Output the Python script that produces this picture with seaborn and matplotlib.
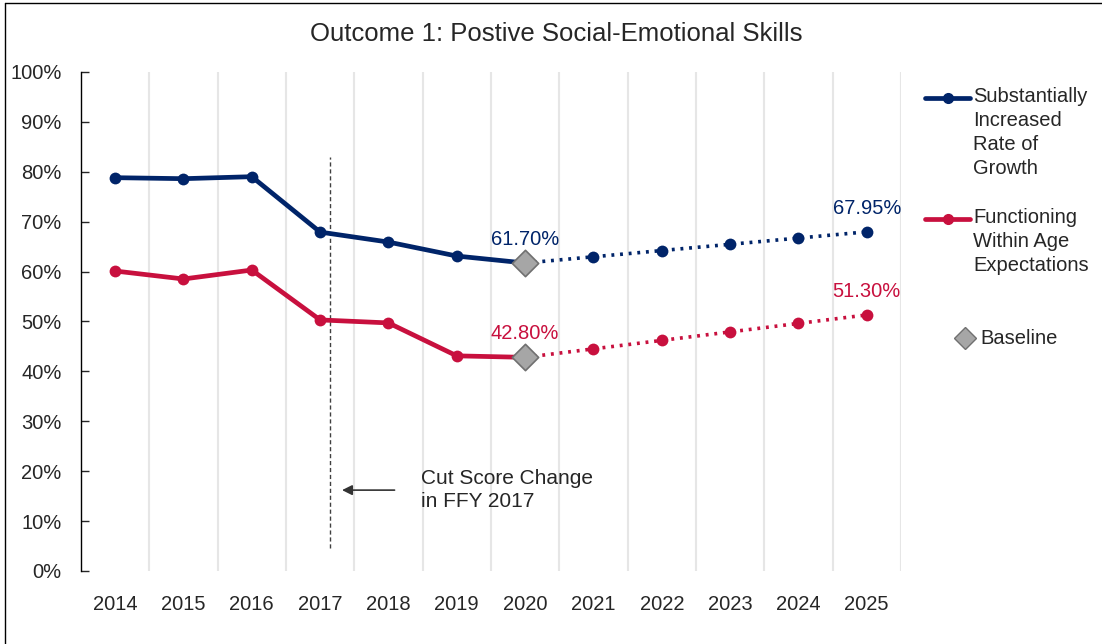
import matplotlib
matplotlib.use("Agg")
import matplotlib.pyplot as plt
from matplotlib.lines import Line2D
from matplotlib.ticker import PercentFormatter
import seaborn as sns
import pandas as pd

years = [2014, 2015, 2016, 2017, 2018, 2019, 2020, 2021, 2022, 2023, 2024, 2025]
growth = [78.8, 78.6, 79.0, 67.9, 65.9, 63.1, 61.70, 62.95, 64.2, 65.45, 66.7, 67.95]
within = [60.1, 58.5, 60.3, 50.3, 49.7, 43.1, 42.80, 44.5, 46.2, 47.9, 49.6, 51.3]
baseline_year = 2020
series_names = ["Substantially\nIncreased\nRate of\nGrowth", "Functioning\nWithin Age\nExpectations"]

navy = "#002469"
red = "#C8103E"
fs = 14.5

sns.set_style("white")
plt.rcParams["font.family"] = ["Liberation Sans", "DejaVu Sans"]
plt.rcParams["font.size"] = fs

fig = plt.figure(figsize=(11.02, 6.44), dpi=100)
ax = fig.add_axes([0.0735, 0.1134, 0.744, 0.775])

df = pd.DataFrame({"year": years, "growth": growth, "within": within})
actual = df[df["year"] <= baseline_year]
target = df[df["year"] >= baseline_year]

for col, color in [("growth", navy), ("within", red)]:
    sns.lineplot(data=actual, x="year", y=col, ax=ax, color=color, lw=3.4,
                 marker="o", markersize=8.5, markeredgewidth=0, zorder=3)
    sns.lineplot(data=target, x="year", y=col, ax=ax, color=color, lw=2.6,
                 ls=(0, (0.8, 1.6)), marker="o", markersize=8.5,
                 markeredgewidth=0, zorder=3)

base = df[df["year"] == baseline_year]
for col in ["growth", "within"]:
    sns.scatterplot(data=base, x="year", y=col, ax=ax, marker="D", s=180,
                    color="#A6A6A6", edgecolor="#707070", linewidth=1.2, zorder=5)

# value labels
for col, color in [("growth", navy), ("within", red)]:
    for yr in [baseline_year, years[-1]]:
        v = df.loc[df["year"] == yr, col].iloc[0]
        ax.annotate(f"{v:.2f}%", (yr, v), xytext=(0, 10), textcoords="offset points",
                    ha="center", va="bottom", color=color, fontsize=fs)

# cut score change
ax.plot([2017.15, 2017.15], [4.6, 83], color="#404040", ls=(0, (3, 2)), lw=1)
ax.annotate("", xy=(2017.28, 16.2), xytext=(2018.13, 16.2),
            arrowprops=dict(arrowstyle="-|>", color="#333333", lw=1.2,
                            mutation_scale=15))
ax.text(2018.47, 16.2, "Cut Score Change\nin FFY 2017", ha="left", va="center",
        fontsize=15, linespacing=1.25)

ax.set_xlim(2013.5, 2025.5)
ax.set_ylim(0, 100)
ax.set_xticks(years)
ax.set_xticklabels([str(y) for y in years])
ax.set_yticks(range(0, 101, 10))
ax.yaxis.set_major_formatter(PercentFormatter(decimals=0))
for gx in [y + 0.5 for y in years]:
    ax.axvline(gx, color="#E6E6E6", lw=1.5, zorder=0)
ax.set_xlabel("")
ax.set_ylabel("")
for s in ["top", "right", "bottom"]:
    ax.spines[s].set_visible(False)
ax.spines["left"].set_color("#000000")
ax.spines["left"].set_linewidth(1)
ax.tick_params(axis="y", left=True, direction="in", length=6, width=1, pad=14,
               labelsize=fs)
ax.tick_params(axis="x", bottom=False, pad=14, labelsize=fs)

fig.text(0.5045, 1 - 34 / 644, "Outcome 1: Postive Social-Emotional Skills",
         ha="center", va="center", fontsize=18.5)

# legend drawn by hand so the wrapped labels sit like the original
leg_items = [(navy, 98, series_names[0]), (red, 219, series_names[1])]
for color, ypx, label in leg_items:
    yf = 1 - ypx / 644
    fig.add_artist(Line2D([925 / 1102, 970 / 1102], [yf, yf], color=color, lw=3.4,
                          transform=fig.transFigure))
    fig.add_artist(Line2D([947.5 / 1102], [yf], color=color, marker="o",
                          markersize=7, ls="none", transform=fig.transFigure))
    fig.text(973 / 1102, yf + 11 / 644, label, ha="left", va="top", fontsize=fs,
             linespacing=1.33)
fig.add_artist(Line2D([965 / 1102], [1 - 338 / 644], marker="D", markersize=11,
                      color="#A6A6A6", markeredgecolor="#707070", ls="none",
                      transform=fig.transFigure))
fig.text(980 / 1102, 1 - 338 / 644, "Baseline", ha="left", va="center", fontsize=fs)

# outer frame (left and top edges only, as in the original)
for xs, ys in [([0.0045, 0.0045], [0, 0.995]), ([0.0045, 1.0], [0.995, 0.995])]:
    fig.add_artist(Line2D(xs, ys, color="#000000", lw=1, transform=fig.transFigure))
fig.savefig("out.png", dpi=100)
